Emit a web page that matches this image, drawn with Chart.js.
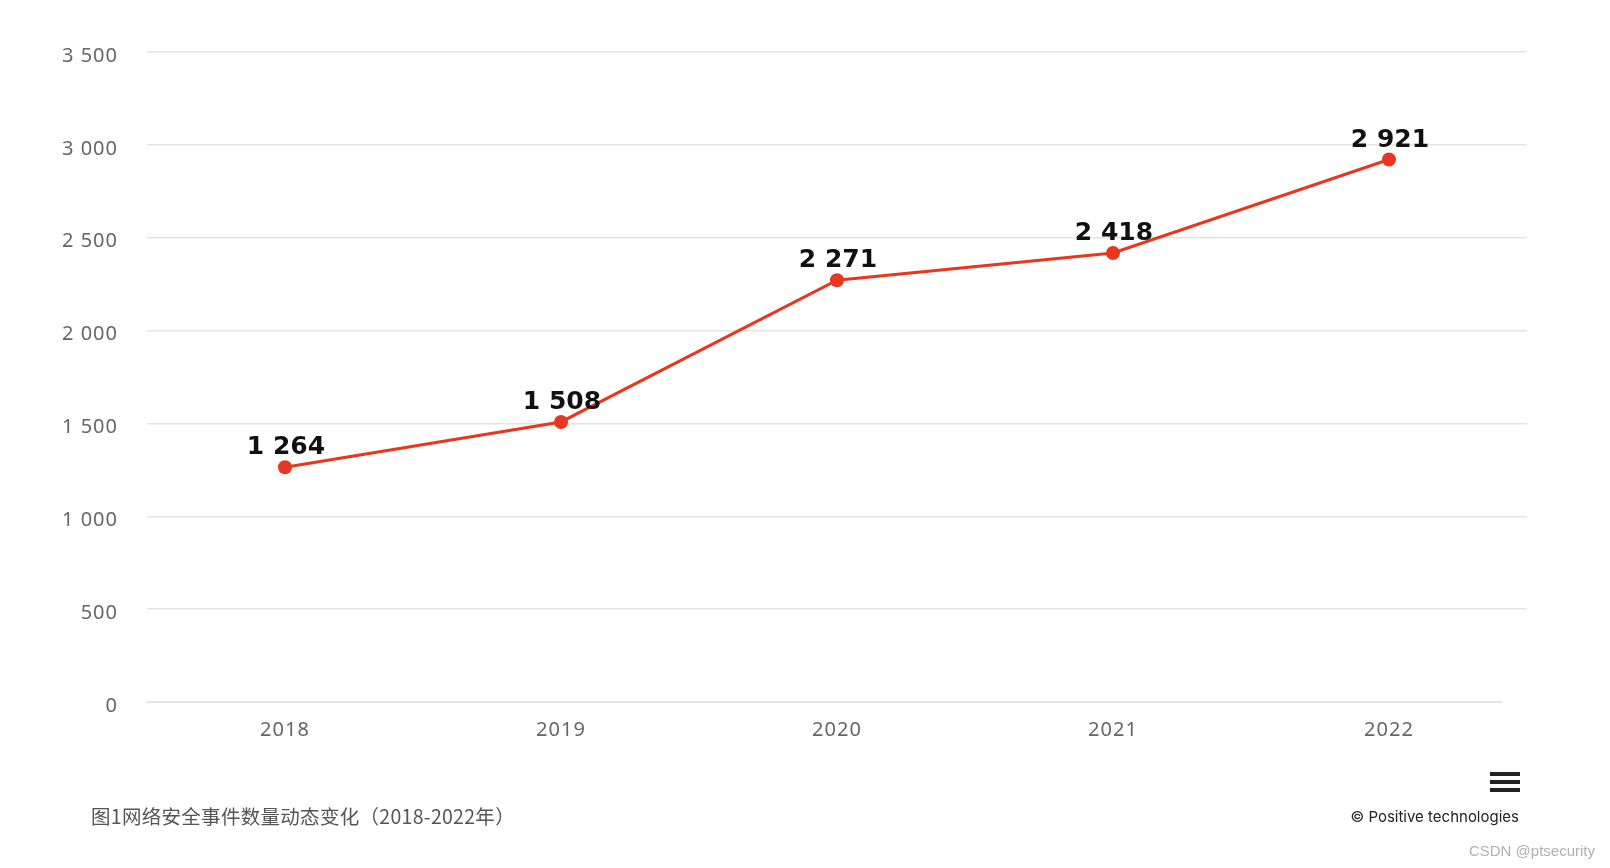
<!DOCTYPE html>
<html>
<head>
<meta charset="utf-8">
<script src="https://cdn.jsdelivr.net/npm/chart.js@4"></script>
<style>
  html, body { margin: 0; padding: 0; background: #fff; width: 1610px; height: 868px; overflow: hidden; }
  #wrap { position: absolute; left: 0; top: 0; width: 1610px; height: 868px; }
  #caption { position: absolute; left: 91px; top: 801px; font-family: "Noto Sans CJK SC", "Noto Sans", sans-serif; font-size: 19.5px; letter-spacing: 0.3px; color: #555; white-space: nowrap; }
  #credit { position: absolute; right: 91px; top: 807px; font-family: Inter, "Noto Sans", sans-serif; font-size: 15px; color: #222; white-space: nowrap; }
  #watermark { position: absolute; right: 15px; top: 842px; font-family: "Liberation Sans", Arial, sans-serif; font-size: 15px; color: #b0b0b0; white-space: nowrap; }
  #menu { position: absolute; left: 1490px; top: 772px; width: 30px; height: 20px; }
  #menu div { position: absolute; left: 0; width: 30px; height: 4px; background: #222; }
</style>
</head>
<body>
<div id="wrap"><canvas id="c"></canvas></div>
<div id="caption">图1网络安全事件数量动态变化（2018-2022年）</div>
<div id="menu"><div style="top:0"></div><div style="top:8px"></div><div style="top:16px"></div></div>
<div id="credit">© Positive technologies</div>
<div id="watermark">CSDN @ptsecurity</div>
<script>
const years = ['2018', '2019', '2020', '2021', '2022'];
const incidents = [1264, 1508, 2271, 2418, 2921];
const yTicks = [0, 500, 1000, 1500, 2000, 2500, 3000, 3500];

function fmt(v) {
  return String(v).replace(/\B(?=(\d{3})+(?!\d))/g, ' ');
}

const spacingPlugin = {
  id: 'spacing',
  beforeDraw(chart) { chart.ctx.letterSpacing = '1px'; },
  beforeDatasetsDraw(chart) { chart.ctx.letterSpacing = '0px'; }
};

const labelPlugin = {
  id: 'valueLabels',
  afterDatasetsDraw(chart) {
    const ctx = chart.ctx;
    const meta = chart.getDatasetMeta(0);
    ctx.save();
    ctx.letterSpacing = '0px';
    ctx.font = 'bold 25px "DejaVu Sans", sans-serif';
    ctx.fillStyle = '#111';
    ctx.textAlign = 'center';
    ctx.textBaseline = 'alphabetic';
    meta.data.forEach((pt, i) => {
      ctx.fillText(fmt(incidents[i]), pt.x + 1, pt.y - 13);
    });
    ctx.restore();
  }
};

const baseLinePlugin = {
  id: 'baseLine',
  beforeDatasetsDraw(chart) {
    const ctx = chart.ctx;
    const y = chart.scales.y.getPixelForValue(0);
    const a = chart.chartArea;
    ctx.save();
    ctx.strokeStyle = '#e4e4e4';
    ctx.lineWidth = 2;
    ctx.beginPath();
    ctx.moveTo(a.left, y);
    ctx.lineTo(a.right - 25, y);
    ctx.stroke();
    ctx.restore();
  }
};

const canvas = document.getElementById('c');
canvas.width = 1610; canvas.height = 868;
canvas.style.width = '1610px'; canvas.style.height = '868px';

new Chart(canvas, {
  type: 'line',
  data: {
    labels: years,
    datasets: [{
      data: incidents,
      borderColor: '#e8371f',
      backgroundColor: '#e8371f',
      borderWidth: 3,
      pointRadius: 7,
      pointHoverRadius: 7,
      pointBackgroundColor: '#e8371f',
      pointBorderWidth: 0,
      tension: 0,
      fill: false
    }]
  },
  options: {
    responsive: false,
    animation: false,
    devicePixelRatio: 1,
    layout: { padding: { top: 52, right: 83, left: 0, bottom: 0 } },
    plugins: { legend: { display: false }, tooltip: { enabled: false } },
    scales: {
      x: {
        offset: true,
        grid: { display: false, drawTicks: false },
        border: { display: false },
        ticks: { color: '#666', font: { family: '"Noto Sans", sans-serif', size: 20 }, padding: 16 },
        afterFit(s) { s.height = 166; }
      },
      y: {
        min: 0,
        max: 3500,
        afterBuildTicks(s) { s.ticks = yTicks.map(v => ({ value: v })); },
        grid: {
          drawTicks: false,
          lineWidth: 1.5,
          color: ctx => (ctx.tick && ctx.tick.value === 0) ? 'rgba(0,0,0,0)' : '#e4e4e4'
        },
        border: { display: false },
        ticks: {
          color: '#666',
          font: { family: '"Noto Sans", sans-serif', size: 20 },
          padding: 29,
          labelOffset: 4,
          callback: v => fmt(v)
        },
        afterFit(s) { s.width = 147; }
      }
    }
  },
  plugins: [spacingPlugin, baseLinePlugin, labelPlugin]
});
</script>
</body>
</html>
